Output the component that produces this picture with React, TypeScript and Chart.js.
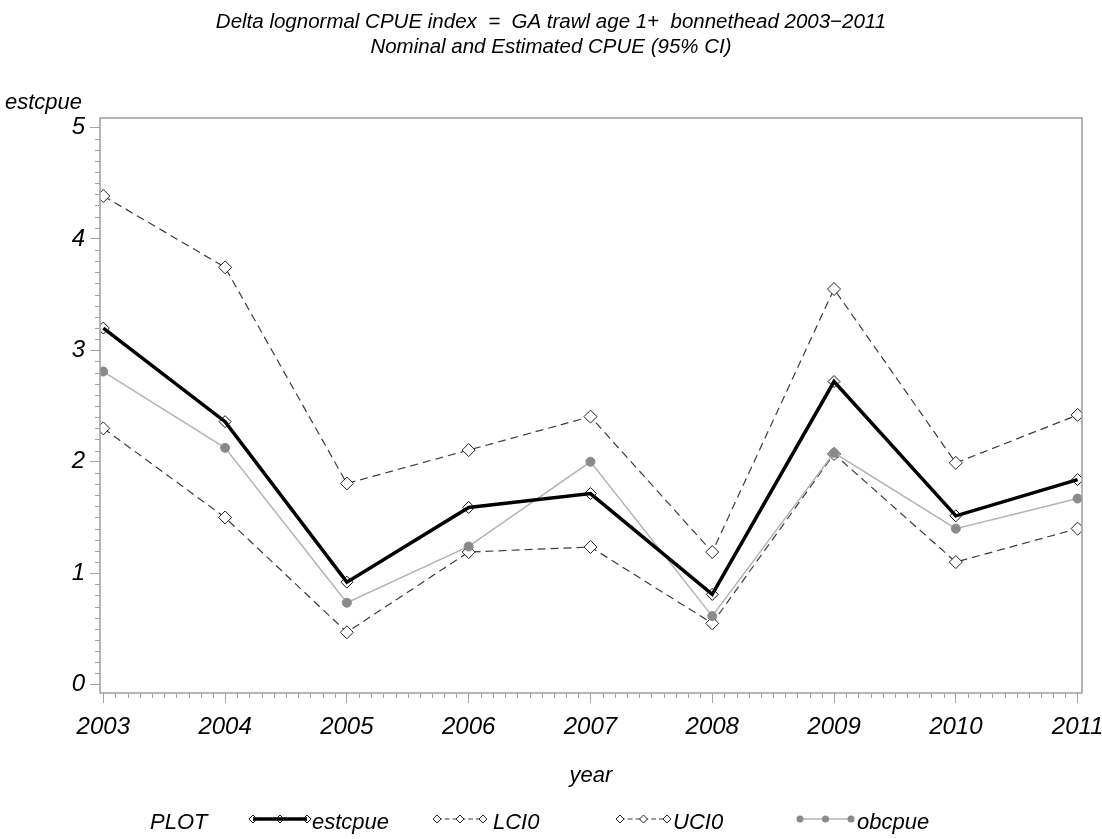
import React, { useEffect, useRef } from "react";
import { Chart, registerables } from "chart.js";

Chart.register(...registerables);

// Survey years and the four CPUE series
const YEARS = [2003, 2004, 2005, 2006, 2007, 2008, 2009, 2010, 2011];
const ESTCPUE = [3.2, 2.36, 0.92, 1.59, 1.715, 0.81, 2.72, 1.515, 1.84];
const LCI0 = [2.3, 1.5, 0.47, 1.19, 1.235, 0.55, 2.07, 1.1, 1.4];
const UCI0 = [4.385, 3.745, 1.805, 2.105, 2.405, 1.19, 3.55, 1.99, 2.42];
const OBCPUE = [2.81, 2.125, 0.735, 1.24, 2.0, 0.615, 2.08, 1.4, 1.67];

const Y_TICKS = [0, 1, 2, 3, 4, 5];
const TITLE_LINES = [
  "Delta lognormal CPUE index  =  GA trawl age 1+  bonnethead 2003\u22122011",
  "Nominal and Estimated CPUE (95% CI)",
];
const Y_TITLE = "estcpue";
const X_TITLE = "year";
const LEGEND_HEADER = "PLOT";
const LEGEND_LABELS = ["estcpue", "LCI0", "UCI0", "obcpue"];

const FONT = "'Liberation Sans', Arial, sans-serif";
const AXIS_GRAY = "#a3a3a3";

const toPoints = (vals: number[]) => YEARS.map((x, i) => ({ x, y: vals[i] }));

const STYLES = [
  { color: "#000000", width: 3.5, dash: [] as number[], marker: "rectRot", radius: 6, fill: "rgba(0,0,0,0)", mcolor: "#111111" },
  { color: "#3c3c3c", width: 1.2, dash: [8, 5], marker: "rectRot", radius: 6.5, fill: "#ffffff", mcolor: "#222222" },
  { color: "#3c3c3c", width: 1.2, dash: [8, 5], marker: "rectRot", radius: 6.5, fill: "#ffffff", mcolor: "#222222" },
  { color: "#b4b4b4", width: 1.5, dash: [] as number[], marker: "circle", radius: 4.5, fill: "#8a8a8a", mcolor: "#8a8a8a" },
];

// Frame, minor ticks, titles and SAS-style legend
const decorations = {
  id: "decorations",
  afterDraw(chart: any) {
    const { ctx, chartArea: a } = chart;
    const xs = chart.scales.x;
    const ys = chart.scales.y;
    ctx.save();

    // frame
    ctx.strokeStyle = AXIS_GRAY;
    ctx.lineWidth = 1.6;
    ctx.strokeRect(a.left, a.top, a.right - a.left, a.bottom - a.top);

    // minor ticks
    ctx.lineWidth = 1;
    ctx.beginPath();
    for (let i = 0; i <= 50; i++) {
      if (i % 10 === 0) continue;
      const py = Math.round(ys.getPixelForValue(i / 10)) + 0.5;
      ctx.moveTo(a.left - 5, py);
      ctx.lineTo(a.left, py);
    }
    for (let i = 0; i <= 80; i++) {
      if (i % 10 === 0) continue;
      const px = Math.round(xs.getPixelForValue(YEARS[0] + i / 10)) + 0.5;
      ctx.moveTo(px, a.bottom);
      ctx.lineTo(px, a.bottom + 5);
    }
    ctx.stroke();

    // titles
    ctx.fillStyle = "#000";
    ctx.textAlign = "center";
    ctx.textBaseline = "alphabetic";
    ctx.font = `italic 20.5px ${FONT}`;
    ctx.fillText(TITLE_LINES[0], 551, 28);
    ctx.fillText(TITLE_LINES[1], 551, 53);

    ctx.font = `italic 22px ${FONT}`;
    ctx.textAlign = "left";
    ctx.fillText(Y_TITLE, 5, 109);
    ctx.textAlign = "center";
    ctx.fillText(X_TITLE, (a.left + a.right) / 2, 782);

    // legend
    ctx.textAlign = "left";
    ctx.fillText(LEGEND_HEADER, 150, 829);
    const slots = [
      { x0: 253, x1: 307, tx: 312 },
      { x0: 437, x1: 483, tx: 493 },
      { x0: 620, x1: 667, tx: 673 },
      { x0: 800, x1: 851, tx: 857 },
    ];
    const ly = 819;
    slots.forEach((s, i) => {
      const st = STYLES[i];
      ctx.save();
      ctx.strokeStyle = st.color;
      ctx.lineWidth = st.width;
      ctx.setLineDash(st.dash.map((d) => d * 0.6));
      ctx.beginPath();
      ctx.moveTo(s.x0, ly);
      ctx.lineTo(s.x1, ly);
      ctx.stroke();
      ctx.setLineDash([]);
      [s.x0, (s.x0 + s.x1) / 2, s.x1].forEach((mx) => {
        ctx.beginPath();
        if (st.marker === "circle") {
          ctx.arc(mx, ly, 3.5, 0, Math.PI * 2);
          ctx.fillStyle = st.fill;
          ctx.fill();
        } else {
          const r = 4;
          ctx.moveTo(mx - r, ly);
          ctx.lineTo(mx, ly - r);
          ctx.lineTo(mx + r, ly);
          ctx.lineTo(mx, ly + r);
          ctx.closePath();
          if (i !== 0) {
            ctx.fillStyle = "#fff";
            ctx.fill();
          }
          ctx.strokeStyle = st.mcolor;
          ctx.lineWidth = 1;
          ctx.stroke();
        }
      });
      ctx.restore();
      ctx.fillStyle = "#000";
      ctx.fillText(LEGEND_LABELS[i], s.tx, 829);
    });

    ctx.restore();
  },
};

export default function App() {
  const ref = useRef<HTMLCanvasElement | null>(null);

  useEffect(() => {
    document.body.style.margin = "0";
    const canvas = ref.current;
    if (!canvas) return;
    const series = [ESTCPUE, LCI0, UCI0, OBCPUE];
    const orders = [0, 2, 3, 1];
    const chart = new Chart(canvas, {
      type: "line",
      data: {
        datasets: series.map((vals, i) => {
          const st = STYLES[i];
          return {
            label: LEGEND_LABELS[i],
            data: toPoints(vals),
            borderColor: st.color,
            borderWidth: st.width,
            borderDash: st.dash,
            tension: 0,
            fill: false,
            pointStyle: st.marker,
            pointRadius: st.radius,
            pointBorderWidth: 1,
            pointBorderColor: st.mcolor,
            pointBackgroundColor: st.fill,
            order: orders[i],
          } as any;
        }),
      },
      options: {
        animation: false,
        responsive: false,
        devicePixelRatio: 1,
        events: [],
        layout: { padding: { top: 118, right: 20, bottom: 0, left: 0 } },
        plugins: {
          legend: { display: false },
          title: { display: false },
          tooltip: { enabled: false },
        },
        scales: {
          x: {
            type: "linear",
            min: 2002.973,
            max: 2011.036,
            afterBuildTicks: (s: any) => {
              s.ticks = YEARS.map((v) => ({ value: v }));
            },
            afterFit: (s: any) => {
              s.height = 146;
              s.paddingLeft = 0;
              s.paddingRight = 0;
            },
            grid: {
              display: true,
              drawOnChartArea: false,
              drawTicks: true,
              tickLength: 10,
              tickColor: AXIS_GRAY,
            },
            border: { display: false },
            ticks: {
              autoSkip: false,
              maxRotation: 0,
              padding: 10,
              color: "#000",
              font: { family: FONT, size: 24, style: "italic" },
              callback: (v: any) => String(v),
            },
          },
          y: {
            type: "linear",
            min: -0.075,
            max: 5.085,
            afterBuildTicks: (s: any) => {
              s.ticks = Y_TICKS.map((v) => ({ value: v }));
            },
            afterFit: (s: any) => {
              s.width = 100;
              s.paddingTop = 0;
              s.paddingBottom = 0;
            },
            grid: {
              display: true,
              drawOnChartArea: false,
              drawTicks: true,
              tickLength: 10,
              tickColor: AXIS_GRAY,
            },
            border: { display: false },
            ticks: {
              padding: 5,
              color: "#000",
              font: { family: FONT, size: 24, style: "italic" },
              callback: (v: any) => String(v),
            },
          },
        },
      },
      plugins: [decorations],
    });
    return () => chart.destroy();
  }, []);

  return <canvas ref={ref} width={1102} height={839} style={{ display: "block" }} />;
}
